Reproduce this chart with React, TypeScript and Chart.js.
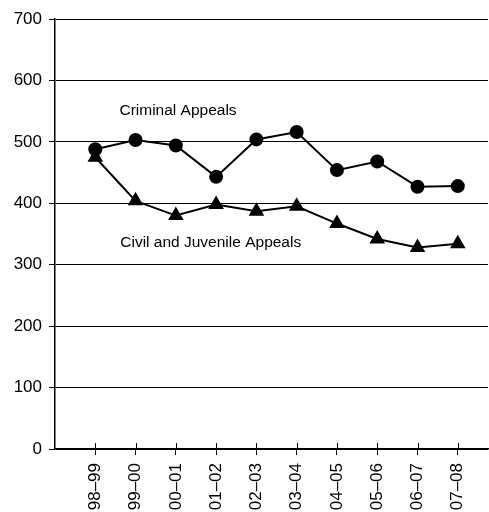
import React, { useEffect, useRef } from "react";
import { Chart, registerables } from "chart.js";

Chart.register(...registerables);

const categories = ["98–99", "99–00", "00–01", "01–02", "02–03", "03–04", "04–05", "05–06", "06–07", "07–08"];
const criminalAppeals = [488, 503, 494, 443, 504, 516, 454, 468, 427, 428];
const civilJuvenileAppeals = [475, 404, 380, 398, 387, 395, 367, 342, 328, 334];
const yTicks = [0, 100, 200, 300, 400, 500, 600, 700];
const annotations = [
  { text: "Criminal Appeals", x: 0.6, y: 550 },
  { text: "Civil and Juvenile Appeals", x: 0.62, y: 335 },
];

const FONT = "'Liberation Sans', Arial, Helvetica, sans-serif";

const extraPlugin = {
  id: "extras",
  afterDraw(chart: any) {
    const ctx = chart.ctx;
    const xs = chart.scales.x;
    const ys = chart.scales.y;
    ctx.save();
    ctx.strokeStyle = "#000";
    ctx.lineWidth = 1;
    const base = ys.getPixelForValue(0);
    xs.ticks.forEach((t: any) => {
      const px = Math.round(xs.getPixelForValue(t.value)) + 0.5;
      ctx.beginPath();
      ctx.moveTo(px, base - 6);
      ctx.lineTo(px, base);
      ctx.stroke();
    });
    ctx.fillStyle = "#000";
    ctx.font = `15.5px ${FONT}`;
    ctx.textAlign = "left";
    ctx.textBaseline = "middle";
    annotations.forEach((a) => {
      ctx.fillText(a.text, xs.getPixelForValue(a.x), ys.getPixelForValue(a.y));
    });
    ctx.restore();
  },
};

export default function App() {
  const ref = useRef<HTMLCanvasElement | null>(null);
  useEffect(() => {
    document.body.style.margin = "0";
    const canvas = ref.current!;
    const chart = new Chart(canvas, {
      type: "line",
      data: {
        datasets: [
          {
            label: "Criminal Appeals",
            data: criminalAppeals.map((y, i) => ({ x: i, y })),
            borderColor: "#000",
            backgroundColor: "#000",
            borderWidth: 2,
            pointStyle: "circle",
            pointRadius: 6,
            pointBackgroundColor: "#000",
            pointBorderColor: "#000",
            tension: 0,
          },
          {
            label: "Civil and Juvenile Appeals",
            data: civilJuvenileAppeals.map((y, i) => ({ x: i, y })),
            borderColor: "#000",
            backgroundColor: "#000",
            borderWidth: 2,
            pointStyle: "triangle",
            pointRadius: 7,
            pointBackgroundColor: "#000",
            pointBorderColor: "#000",
            tension: 0,
          },
        ],
      },
      options: {
        responsive: false,
        animation: false,
        layout: { autoPadding: false, padding: { top: 19, right: 1, left: 0, bottom: 0 } },
        plugins: { legend: { display: false }, tooltip: { enabled: false } },
        scales: {
          x: {
            type: "linear",
            min: -1,
            max: 9.75,
            afterBuildTicks: (scale: any) => {
              scale.ticks = categories.map((_, i) => ({ value: i }));
            },
            afterFit: (scale: any) => {
              scale.height = 63;
              scale.paddingRight = 0;
              scale.paddingLeft = 0;
            },
            ticks: {
              stepSize: 1,
              autoSkip: false,
              minRotation: 90,
              maxRotation: 90,
              padding: 8,
              color: "#000",
              font: { family: FONT, size: 17 },
              callback: (v: any) => categories[v] ?? "",
            },
            grid: {
              drawOnChartArea: false,
              drawTicks: true,
              tickLength: 6,
              color: "#000",
            },
            border: { display: true, color: "#000", width: 1.5 },
          },
          y: {
            min: 0,
            max: 700,
            afterBuildTicks: (scale: any) => {
              scale.ticks = yTicks.map((v) => ({ value: v }));
            },
            afterFit: (scale: any) => {
              scale.width = 55;
            },
            ticks: {
              padding: 7,
              color: "#000",
              font: { family: FONT, size: 17 },
            },
            grid: {
              drawOnChartArea: true,
              drawTicks: true,
              tickLength: 6,
              color: "#000",
              lineWidth: 1,
            },
            border: { display: true, color: "#000", width: 1.5 },
          },
        },
      },
      plugins: [extraPlugin],
    });
    return () => chart.destroy();
  }, []);
  return (
    <div style={{ width: 489, height: 512, background: "#fff" }}>
      <canvas ref={ref} width={489} height={512} />
    </div>
  );
}
